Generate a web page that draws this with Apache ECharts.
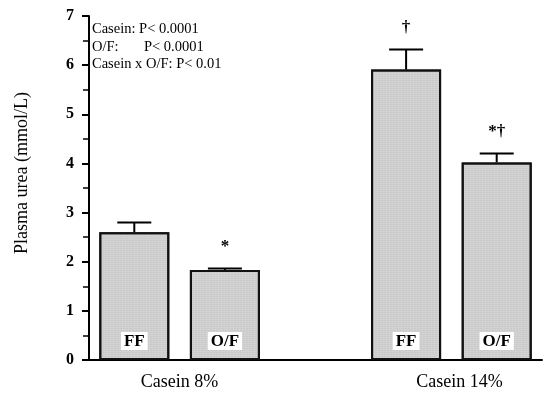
<!DOCTYPE html>
<html>
<head>
<meta charset="utf-8">
<script src="https://cdn.jsdelivr.net/npm/echarts@6/dist/echarts.min.js"></script>
<style>html,body{margin:0;padding:0;background:#fff}#c{width:545px;height:393px}</style>
</head>
<body>
<div id="c"></div>
<script>
// Data
var slots = ['FF', 'O/F', '', 'FF', 'O/F'];
var means = [2.60, 1.83, null, 5.91, 4.02];
var sem = [0.20, 0.03, null, 0.41, 0.18];
var marks = ['', '*', '', '\u2020', '*\u2020'];
var groupLabels = {1: 'Casein 8%', 4: 'Casein 14%'};
var yTicks = [0, 1, 2, 3, 4, 5, 6, 7];
var statsText = ['Casein: P< 0.0001', 'O/F:       P< 0.0001', 'Casein x O/F: P< 0.01'];

var serif = '"Liberation Serif", "DejaVu Serif", serif';
var chart = echarts.init(document.getElementById('c'));

var errData = [];
for (var i = 0; i < slots.length; i++) {
  if (means[i] != null) errData.push([i, means[i], means[i] + sem[i], marks[i]]);
}

chart.setOption({
  animation: false,
  grid: {left: 89, width: 459, top: 16, bottom: 33},
  xAxis: [{
    type: 'category', data: slots, boundaryGap: true,
    axisLine: {show: true, onZero: false, lineStyle: {color: '#000', width: 2}},
    axisTick: {show: false}, axisLabel: {show: false}
  }, {
    type: 'value', min: 0, max: 5, interval: 1, position: 'bottom',
    axisLine: {show: false}, axisTick: {show: false}, splitLine: {show: false},
    axisLabel: {
      margin: 13, color: '#000', fontFamily: serif, fontSize: 18,
      formatter: function (v) {
        if (v === 1) return '{a|' + groupLabels[v] + '}';
        if (v === 4) return '{b|' + groupLabels[v] + '}';
        return '';
      },
      rich: {
        a: {fontFamily: serif, fontSize: 18, color: '#000'},
        b: {fontFamily: serif, fontSize: 18, color: '#000', padding: [0, 0, 0, 16]}
      }
    }
  }],
  yAxis: {
    type: 'value', min: yTicks[0], max: yTicks[yTicks.length - 1], interval: 1,
    name: 'Plasma urea (mmol/L)', nameLocation: 'middle', nameGap: 58,
    nameTextStyle: {color: '#000', fontFamily: serif, fontSize: 18, padding: [0, 0, 0, 30]},
    axisLine: {show: true, lineStyle: {color: '#000', width: 2}},
    axisTick: {show: true, inside: false, length: 7, lineStyle: {color: '#000', width: 2}},
    minorTick: {show: true, splitNumber: 2, length: 6, lineStyle: {color: '#000', width: 1.5}},
    axisLabel: {color: '#000', fontFamily: serif, fontSize: 16, fontWeight: 'bold', margin: 15},
    splitLine: {show: false}
  },
  series: [{
    type: 'bar', xAxisIndex: 0, data: means, barWidth: 70,
    itemStyle: {color: '#d2d2d2', borderColor: '#111', borderWidth: 2,
      decal: {symbol: 'rect', symbolSize: 0.5, color: 'rgba(120,120,120,0.35)', dashArrayX: [2, 1], dashArrayY: [1, 1], rotation: 0}},
    label: {
      show: true, position: 'insideBottom', distance: 10,
      formatter: function (p) { return slots[p.dataIndex]; },
      backgroundColor: '#fff', padding: [1, 3, 0, 3],
      color: '#000', fontFamily: serif, fontWeight: 'bold', fontSize: 17
    },
    z: 2
  }, {
    type: 'custom', xAxisIndex: 0, data: errData, z: 3,
    renderItem: function (params, api) {
      var x = api.value(0);
      var p0 = api.coord([x, api.value(1)]);
      var p1 = api.coord([x, api.value(2)]);
      var half = 17;
      return {
        type: 'group', children: [
          {type: 'line', shape: {x1: p0[0], y1: p0[1], x2: p1[0], y2: p1[1]}, style: {stroke: '#000', lineWidth: 2}},
          {type: 'line', shape: {x1: p1[0] - half, y1: p1[1], x2: p1[0] + half, y2: p1[1]}, style: {stroke: '#000', lineWidth: 2}},
          {type: 'text', x: p1[0], y: p1[1] - 13, style: {text: api.value(3), textAlign: 'center', textVerticalAlign: 'bottom', fill: '#000', font: 'bold 17px ' + serif}}
        ]
      };
    }
  }],
  graphic: statsText.map(function (t, i) {
    return {type: 'text', left: 92, top: 22 + i * 17.5,
      style: {text: t, fill: '#000', font: '14.5px ' + serif}};
  })
});
</script>
</body>
</html>
